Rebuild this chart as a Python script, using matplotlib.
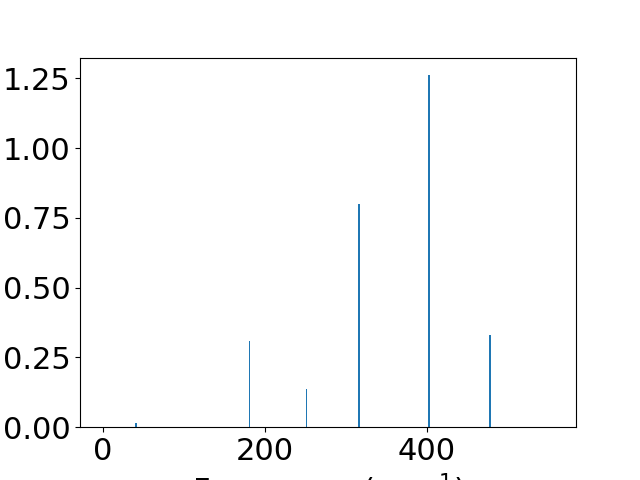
import matplotlib
matplotlib.use("Agg")
import matplotlib.pyplot as plt

frequencies = [40.7, 180.7, 251.4, 315.7, 402.5, 477.8]
intensities = [0.014, 0.308, 0.136, 0.799, 1.261, 0.330]

plt.rcParams['font.size'] = 22
fig, ax = plt.subplots(figsize=(6.4, 4.8), dpi=100)
ax.bar(frequencies, intensities, width=2.0, color='C0')
ax.set_xlim(-28.4, 584)
ax.set_xlabel('Frequency (cm$^{-1}$)')
fig.savefig('out.png')
